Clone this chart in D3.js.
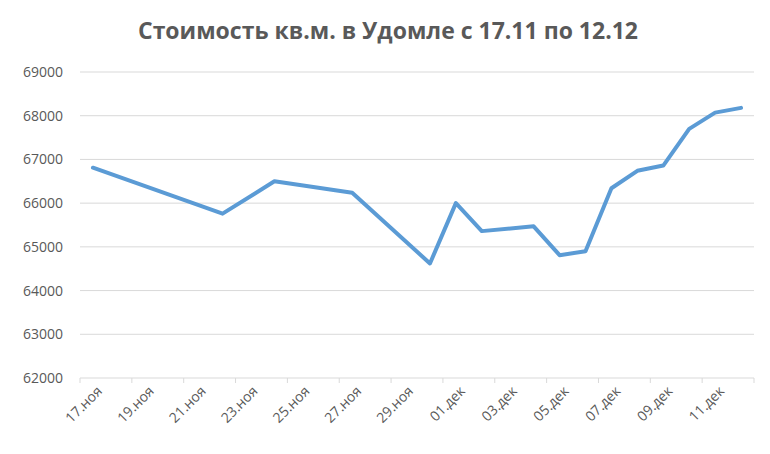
<!DOCTYPE html>
<html><head><meta charset="utf-8">
<script src="https://cdn.jsdelivr.net/npm/d3@7"></script>
<style>body{margin:0;background:#fff}text{font-family:"Open Sans","Liberation Sans",sans-serif}</style>
</head><body><svg id="c" width="770" height="454"></svg>
<script>
"use strict";
const dates = ["2023-11-17","2023-11-22","2023-11-24","2023-11-27","2023-11-30","2023-12-01","2023-12-02","2023-12-04","2023-12-05","2023-12-06","2023-12-07","2023-12-08","2023-12-09","2023-12-10","2023-12-11","2023-12-12"];
const prices = [66810,65760,66500,66240,64620,66000,65360,65470,64810,64900,66340,66740,66860,67700,68070,68180];
const yTicks = [62000,63000,64000,65000,66000,67000,68000,69000];
const monthNames = ["янв","фев","мар","апр","май","июн","июл","авг","сен","окт","ноя","дек"];

const svg = d3.select("#c");
const parse = d3.utcParse("%Y-%m-%d");
const day = 864e5;
const x = d3.scaleUtc().domain([parse("2023-11-17"), parse("2023-12-13")]).range([80, 754]);
const y = d3.scaleLinear().domain([62000, 69000]).range([378, 72]);

svg.append("text").attr("x", 388).attr("y", 39).attr("text-anchor", "middle")
  .attr("font-size", 23).attr("font-weight", "bold").attr("fill", "#595959")
  .text("Стоимость кв.м. в Удомле с 17.11 по 12.12");

svg.append("g").selectAll("line").data(yTicks.slice(1)).join("line")
  .attr("x1", 80).attr("x2", 754).attr("y1", d => y(d)).attr("y2", d => y(d))
  .attr("stroke", "#d9d9d9").attr("stroke-width", 1);

svg.append("g").selectAll("text").data(yTicks).join("text")
  .attr("x", 63).attr("y", d => y(d) + 5).attr("text-anchor", "end")
  .attr("font-size", 14).attr("fill", "#595959").text(d => d);

const tickDates = d3.range(14).map(i => new Date(parse("2023-11-17").getTime() + i * 2 * day));
const xa = svg.append("g");
xa.append("line").attr("x1", 80).attr("x2", 754).attr("y1", 378).attr("y2", 378).attr("stroke", "#d9d9d9");
xa.selectAll("line.t").data(tickDates).join("line").attr("class", "t")
  .attr("x1", d => x(d)).attr("x2", d => x(d)).attr("y1", 378).attr("y2", 383).attr("stroke", "#d9d9d9");
xa.selectAll("text").data(tickDates.slice(0, 13)).join("text")
  .attr("text-anchor", "end").attr("font-size", 14).attr("fill", "#595959")
  .attr("transform", d => `translate(${x(d) + 23},${392}) rotate(-45)`)
  .text(d => String(d.getUTCDate()).padStart(2, "0") + "." + monthNames[d.getUTCMonth()]);

const pts = dates.map((d, i) => [new Date(parse(d).getTime() + day / 2), prices[i]]);
svg.append("path").datum(pts)
  .attr("d", d3.line().x(d => x(d[0])).y(d => y(d[1])))
  .attr("fill", "none").attr("stroke", "#5b9bd5").attr("stroke-width", 4)
  .attr("stroke-linejoin", "round").attr("stroke-linecap", "round");
</script></body></html>
